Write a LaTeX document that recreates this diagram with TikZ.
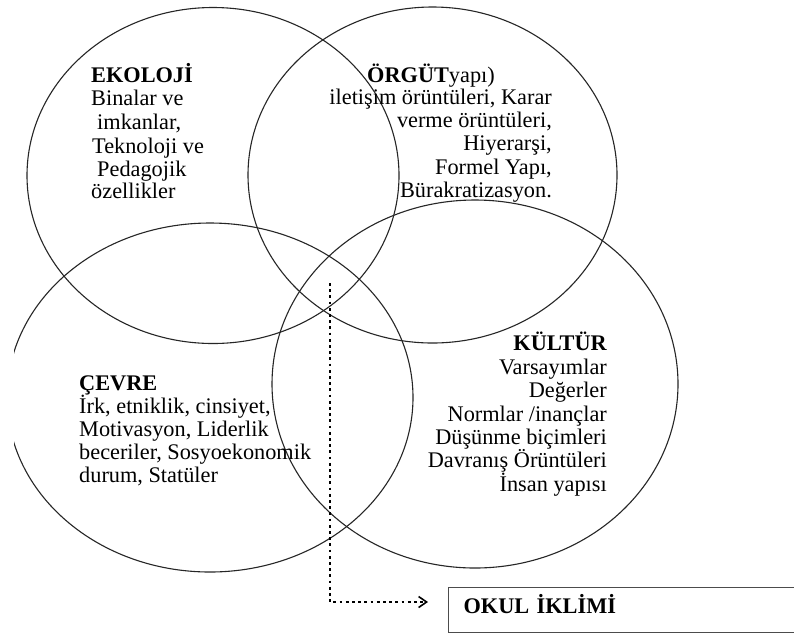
\documentclass[tikz,border=0pt]{standalone}
\usepackage{fontspec}
\setmainfont{Liberation Serif}
\usetikzlibrary{shapes.geometric,arrows.meta}
\begin{document}
\begin{tikzpicture}[x=1pt,y=-1pt,
  venn/.style={draw=black!85, line width=1.1pt, ellipse, inner sep=0pt, outer sep=0pt},
  txt/.style={inner sep=0pt, font=\fontsize{22.3}{23}\selectfont},
  lft/.style={txt, anchor=base west},
  rgt/.style={txt, anchor=base east},
  hd/.style={font=\bfseries\fontsize{22.3}{23}\selectfont},
  flow/.style={line width=2.8pt, dash pattern=on 2.8pt off 3.4pt,
    -{Straight Barb[length=8pt,width=11pt,line width=1.6pt]}},
  outbox/.style={draw=black!70, line width=1.2pt, anchor=north west,
    minimum width=370pt, minimum height=45pt, text width=340pt,
    inner xsep=15pt, align=left, text height=7pt, text depth=0pt,
    font=\bfseries\fontsize{22.3}{23}\selectfont}
]
\useasboundingbox (0,0) rectangle (794,633);
\fill[white] (0,0) rectangle (794,633);
\begin{scope}
\clip (14,0) rectangle (794,633);
\node[venn, minimum width=372pt, minimum height=336pt] (eko) at (213,175.5) {};
\node[venn, minimum width=369pt, minimum height=336pt] (org) at (432.5,175) {};
\node[venn, minimum width=406pt, minimum height=349pt] (cev) at (210,397.5) {};
\node[venn, minimum width=406pt, minimum height=368pt] (kul) at (475,384) {};
\node[outbox] (okul) at (448,587) {OKUL İKLİMİ};
\end{scope}

% EKOLOJİ
\node[lft, hd] (ekoT) at (91,82) {EKOLOJİ};
\node[lft] (eko1) at (91,105) {Binalar ve};
\node[lft] (eko2) at (97,129) {imkanlar,};
\node[lft] (eko3) at (92,153) {Teknoloji ve};
\node[lft] (eko4) at (97,176) {Pedagojik};
\node[lft] (eko5) at (91,198) {özellikler};

% ÖRGÜT
\node[lft] (orgT) at (367,82) {\bfseries ÖRGÜT\mdseries yapı)};
\node[rgt] (org1) at (552,104) {iletişim örüntüleri, Karar};
\node[rgt] (org2) at (552,127) {verme örüntüleri,};
\node[rgt] (org3) at (552,150) {Hiyerarşi,};
\node[rgt] (org4) at (552,174) {Formel Yapı,};
\node[rgt] (org5) at (552,197) {Bürakratizasyon.};

% KÜLTÜR
\node[rgt, hd] (kulT) at (607,350) {KÜLTÜR};
\node[rgt] (kul1) at (607,374) {Varsayımlar};
\node[rgt] (kul2) at (607,397) {Değerler};
\node[rgt] (kul3) at (607,421) {Normlar /inançlar};
\node[rgt] (kul4) at (607,444) {Düşünme biçimleri};
\node[rgt] (kul5) at (607,467) {Davranış Örüntüleri};
\node[rgt] (kul6) at (607,491) {İnsan yapısı};

% ÇEVRE
\node[lft, hd] (cevT) at (79,390) {ÇEVRE};
\node[lft] (cev1) at (79,413) {İrk, etniklik, cinsiyet,};
\node[lft] (cev2) at (79,436) {Motivasyon, Liderlik};
\node[lft] (cev3) at (79,459) {beceriler, Sosyoekonomik};
\node[lft] (cev4) at (79,482) {durum, Statüler};

% connector
\coordinate (start) at (330,283);
\coordinate (bend) at (330,602);
\draw[flow, shorten >=20pt] (start) -- (bend) -- (bend -| okul.west);
\end{tikzpicture}
\end{document}
